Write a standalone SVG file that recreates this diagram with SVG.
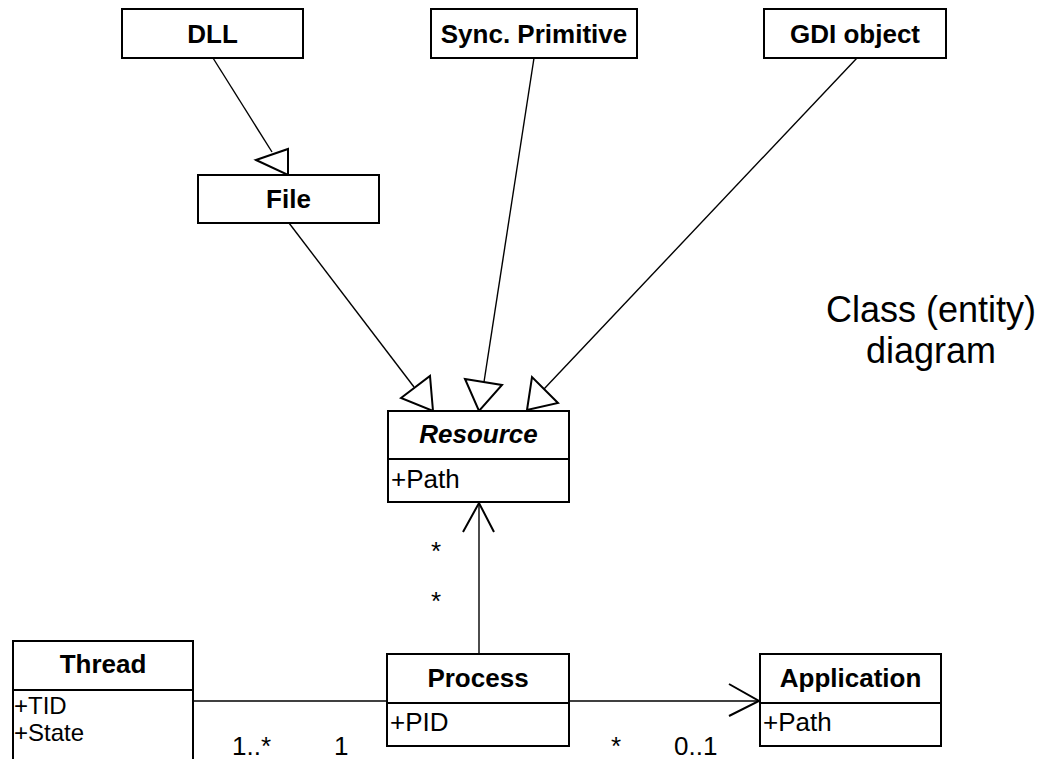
<svg xmlns="http://www.w3.org/2000/svg" width="1045" height="759" viewBox="0 0 1045 759">
<style>
.box{fill:#fff;stroke:#000;stroke-width:2}
.div{stroke:#000;stroke-width:2}
.ln{stroke:#000;stroke-width:1.4;fill:none}
.tri{fill:#fff;stroke:#000;stroke-width:2;stroke-linejoin:miter}
.open{fill:none;stroke:#000;stroke-width:2}
.t{font-family:"Liberation Sans",Arial,sans-serif;font-size:26px;font-weight:bold;text-anchor:middle;fill:#000}
.a{font-family:"Liberation Sans",Arial,sans-serif;font-size:26px;fill:#000}
.s{font-family:"Liberation Sans",Arial,sans-serif;font-size:24px;fill:#000}
.big{font-family:"Liberation Sans",Arial,sans-serif;font-size:36px;text-anchor:middle;fill:#000}
</style>
<rect width="1045" height="759" fill="#fff"/>
<g id="connectors">
<line class="ln" x1="213" y1="58" x2="272" y2="152"/>
<polygon class="tri" points="256,160 288,149 288,175"/>
<line class="ln" x1="289" y1="223" x2="414" y2="387"/>
<polygon class="tri" points="401,398 430,376 433,411"/>
<line class="ln" x1="534" y1="58" x2="484" y2="382"/>
<polygon class="tri" points="465,379 502,385 479,411"/>
<line class="ln" x1="857" y1="58" x2="544" y2="389"/>
<polygon class="tri" points="527,410 532,377 558,403"/>
<line class="ln" x1="479" y1="654" x2="479" y2="503"/>
<polyline class="open" points="463,532 479,503 494,532"/>
<line class="ln" x1="193" y1="701" x2="387" y2="701"/>
<line class="ln" x1="569" y1="701" x2="759" y2="701"/>
<polyline class="open" points="729,684 759,701 729,716"/>
<text class="a" x="431" y="560">*</text>
<text class="a" x="431" y="610">*</text>
<text class="a" x="232" y="755">1..*</text>
<text class="a" x="334" y="755">1</text>
<text class="a" x="611" y="755">*</text>
<text class="a" x="674" y="755">0..1</text>
</g>
<g id="dll">
<rect class="box" x="122" y="9" width="181" height="49"/>
<text class="t" x="212.5" y="43">DLL</text>
</g>
<g id="sync">
<rect class="box" x="431" y="9" width="206" height="49"/>
<text class="t" x="534" y="43">Sync. Primitive</text>
</g>
<g id="gdi">
<rect class="box" x="764" y="9" width="182" height="49"/>
<text class="t" x="855" y="43">GDI object</text>
</g>
<g id="file">
<rect class="box" x="198" y="175" width="181" height="48"/>
<text class="t" x="288.5" y="208">File</text>
</g>
<g id="resource">
<rect class="box" x="388" y="411" width="181" height="91"/>
<line class="div" x1="388" y1="459" x2="569" y2="459"/>
<text class="t" x="478.5" y="443" font-style="italic">Resource</text>
<text class="a" x="391" y="488">+Path</text>
</g>
<g id="thread">
<rect class="box" x="13" y="641" width="180" height="130"/>
<line class="div" x1="13" y1="690" x2="193" y2="690"/>
<text class="t" x="103" y="673">Thread</text>
<text class="s" x="14" y="714">+TID</text>
<text class="s" x="14" y="741">+State</text>
</g>
<g id="process">
<rect class="box" x="387" y="654" width="182" height="92"/>
<line class="div" x1="387" y1="703" x2="569" y2="703"/>
<text class="t" x="478" y="687">Process</text>
<text class="a" x="390" y="731">+PID</text>
</g>
<g id="application">
<rect class="box" x="760" y="654" width="181" height="92"/>
<line class="div" x1="760" y1="703" x2="941" y2="703"/>
<text class="t" x="850.5" y="687">Application</text>
<text class="a" x="763" y="731">+Path</text>
</g>
<g id="caption">
<text class="big" x="931" y="322">Class (entity)</text>
<text class="big" x="931" y="363">diagram</text>
</g>
</svg>
